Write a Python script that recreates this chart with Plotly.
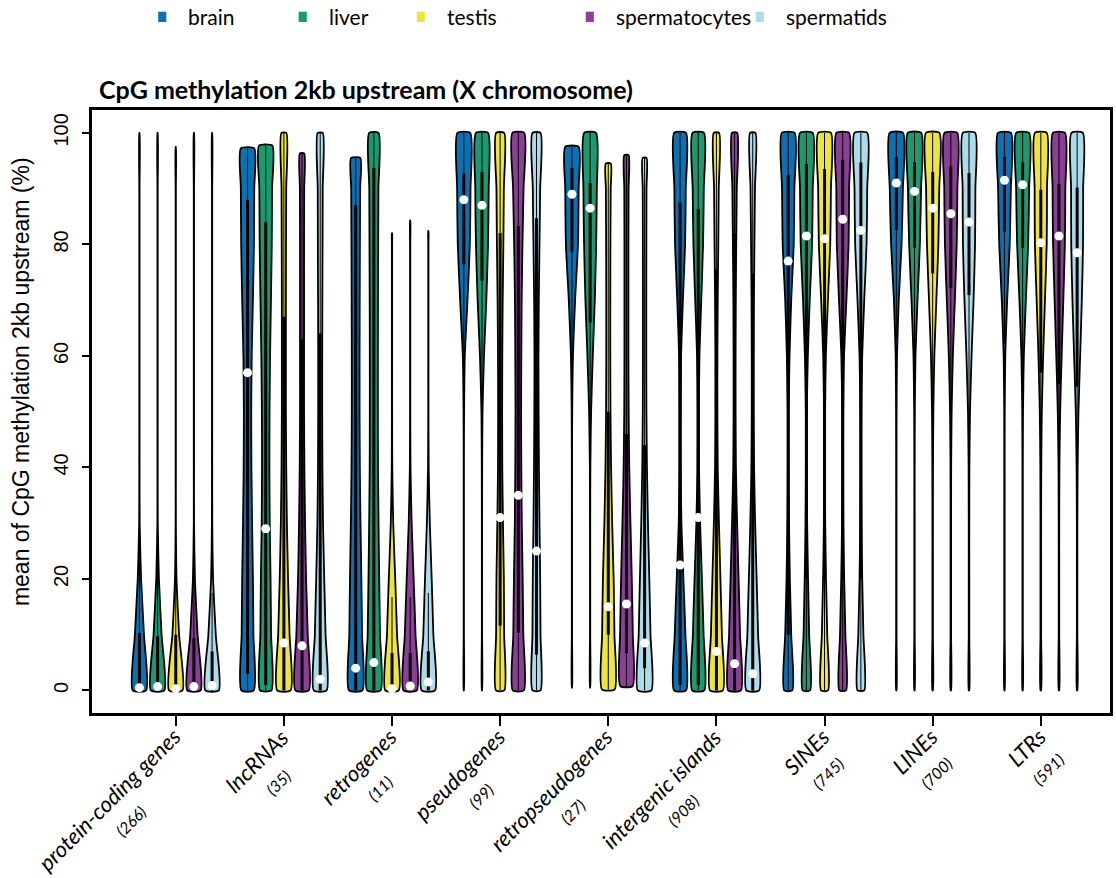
import numpy as np
import plotly.graph_objects as go

# ---------------------------------------------------------------- data
categories = ["protein-coding genes", "lncRNAs", "retrogenes", "pseudogenes",
              "retropseudogenes", "intergenic islands", "SINEs", "LINEs", "LTRs"]
counts = [266, 35, 11, 99, 27, 908, 745, 700, 591]
tissues = ["brain", "liver", "testis", "spermatocytes", "spermatids"]
colors = ["#0C70B2", "#1B9A70", "#EEE43F", "#8B3F96", "#ADDBEA"]

# density levels (% methylation) at which violin widths are given
levels = [0, 10, 20, 30, 40, 50, 60, 70, 80, 90, 100]

# medians (white dots), one value per category
median_brain = [0.5, 57, 4, 88, 89, 22.5, 77, 91, 91.5]
median_liver = [0.7, 29, 5, 87, 86.5, 31, 81.5, 89.5, 90.7]
median_testis = [0.3, 8.5, 0.3, 31, 15, 7, 81, 86.5, 80.3]
median_spermatocytes = [0.7, 8, 0.8, 35, 15.5, 4.8, 84.5, 85.5, 81.5]
median_spermatids = [0.9, 2, 1.5, 25, 8.5, 3, 82.5, 84, 78.5]

# lower / upper quartiles
q1_brain = [0, 3, 0, 76.4, 78.7, 1, 10, 82.6, 82.3]
q3_brain = [10.3, 88, 87, 92.7, 93.7, 87.5, 92.5, 95.7, 95.7]
q1_liver = [0, 1, 0, 73.5, 66, 1, 20, 79.4, 79.4]
q3_liver = [9.7, 84, 93.7, 93, 91, 86.3, 94.4, 94.7, 94.7]
q1_testis = [0, 0, 0, 11.6, 10, 0, 20, 74.8, 57]
q3_testis = [10, 67, 6.7, 82, 50, 75.5, 93.5, 93, 89.8]
q1_spermatocytes = [0, 0, 0, 10.3, 6.7, 0, 20, 72.2, 55]
q3_spermatocytes = [9.4, 63, 6.7, 83.3, 46, 82, 95.2, 94, 90.8]
q1_spermatids = [0, 0, 0, 6.4, 4, 0, 20, 70.9, 54.5]
q3_spermatids = [7, 64, 7, 84.7, 44, 74.8, 94.7, 92.8, 90.2]

# minimum / maximum of each distribution
min_brain = [0, 0, 0, 0, 0.5, 0, 0, 0, 0]
max_brain = [100, 97.2, 95.5, 100, 97.5, 100, 100, 100, 100]
min_liver = [0, 0, 0, 0, 0.5, 0, 0, 0, 0]
max_liver = [100, 97.7, 100, 100, 100, 100, 100, 100, 100]
min_testis = [0, 0, 0, 0, 0.2, 0, 0, 0, 0]
max_testis = [97.5, 100, 82, 100, 94.5, 100, 100, 100, 100]
min_spermatocytes = [0, 0, 0, 0, 0.8, 0, 0, 0, 0]
max_spermatocytes = [100, 96.3, 84.3, 100, 96, 100, 100, 100, 100]
min_spermatids = [0, 0, 0, 0, 0, 0, 0, 0, 0]
max_spermatids = [100, 100, 82.4, 100, 95.5, 100, 100, 100, 100]

# relative density (violin half-width, 1 = widest) at each level, per category
density_brain = [
    [1.0, 0.68, 0.25, 0.04, 0.02, 0.02, 0.02, 0.02, 0.02, 0.02, 0.02],
    [0.92, 0.88, 0.8, 0.68, 0.58, 0.55, 0.62, 0.8, 0.95, 1.0, 1.0],
    [1.0, 0.95, 0.85, 0.72, 0.62, 0.58, 0.58, 0.6, 0.63, 0.67, 0.7],
    [0.02, 0.02, 0.02, 0.02, 0.02, 0.04, 0.15, 0.55, 0.9, 1.0, 0.95],
    [0.02, 0.02, 0.02, 0.02, 0.02, 0.04, 0.15, 0.47, 0.9, 1.0, 1.0],
    [0.9, 0.8, 0.5, 0.2, 0.1, 0.1, 0.15, 0.42, 0.75, 0.85, 0.88],
    [0.6, 0.45, 0.25, 0.12, 0.07, 0.07, 0.2, 0.45, 0.82, 0.92, 0.95],
    [0.03, 0.03, 0.03, 0.03, 0.03, 0.04, 0.1, 0.36, 0.78, 0.98, 1.0],
    [0.03, 0.03, 0.03, 0.03, 0.03, 0.04, 0.12, 0.4, 0.78, 0.95, 0.97],
]
density_liver = [
    [1.0, 0.6, 0.2, 0.03, 0.02, 0.02, 0.02, 0.02, 0.02, 0.02, 0.02],
    [0.85, 0.8, 0.72, 0.6, 0.55, 0.57, 0.65, 0.78, 0.9, 0.95, 1.0],
    [1.0, 0.92, 0.8, 0.7, 0.62, 0.6, 0.6, 0.62, 0.65, 0.68, 0.7],
    [0.02, 0.02, 0.02, 0.02, 0.03, 0.08, 0.3, 0.65, 0.9, 1.0, 0.9],
    [0.02, 0.02, 0.02, 0.02, 0.04, 0.15, 0.4, 0.7, 0.9, 1.0, 0.88],
    [0.9, 0.8, 0.55, 0.28, 0.12, 0.1, 0.18, 0.45, 0.72, 0.83, 0.85],
    [0.55, 0.42, 0.25, 0.12, 0.07, 0.07, 0.22, 0.5, 0.85, 0.95, 0.95],
    [0.03, 0.03, 0.03, 0.03, 0.03, 0.05, 0.15, 0.45, 0.8, 0.98, 1.0],
    [0.03, 0.03, 0.03, 0.03, 0.03, 0.06, 0.18, 0.48, 0.82, 0.97, 0.97],
]
density_testis = [
    [1.0, 0.5, 0.12, 0.02, 0.02, 0.02, 0.02, 0.02, 0.02, 0.02, 0.02],
    [1.0, 0.85, 0.62, 0.45, 0.35, 0.3, 0.3, 0.3, 0.32, 0.35, 0.37],
    [1.0, 0.75, 0.48, 0.18, 0.04, 0.02, 0.02, 0.02, 0.02, 0.02, 0.02],
    [0.62, 0.6, 0.55, 0.42, 0.32, 0.3, 0.32, 0.38, 0.48, 0.55, 0.6],
    [0.95, 0.92, 0.8, 0.58, 0.42, 0.33, 0.3, 0.3, 0.32, 0.36, 0.4],
    [0.95, 0.82, 0.6, 0.38, 0.2, 0.15, 0.15, 0.2, 0.28, 0.35, 0.4],
    [0.52, 0.4, 0.22, 0.1, 0.07, 0.08, 0.2, 0.5, 0.85, 0.95, 0.95],
    [0.04, 0.04, 0.04, 0.04, 0.05, 0.1, 0.25, 0.55, 0.85, 0.98, 1.0],
    [0.05, 0.05, 0.05, 0.05, 0.07, 0.15, 0.35, 0.62, 0.88, 0.92, 0.88],
]
density_spermatocytes = [
    [1.0, 0.55, 0.15, 0.02, 0.02, 0.02, 0.02, 0.02, 0.02, 0.02, 0.02],
    [1.0, 0.85, 0.6, 0.45, 0.35, 0.3, 0.3, 0.3, 0.3, 0.32, 0.33],
    [1.0, 0.8, 0.52, 0.22, 0.05, 0.02, 0.02, 0.02, 0.02, 0.02, 0.02],
    [0.82, 0.75, 0.65, 0.52, 0.45, 0.42, 0.45, 0.5, 0.62, 0.78, 0.88],
    [0.92, 0.95, 0.8, 0.6, 0.42, 0.33, 0.3, 0.3, 0.3, 0.32, 0.33],
    [0.95, 0.82, 0.6, 0.38, 0.2, 0.15, 0.15, 0.18, 0.25, 0.33, 0.4],
    [0.5, 0.4, 0.22, 0.1, 0.07, 0.08, 0.2, 0.55, 0.88, 0.95, 0.95],
    [0.04, 0.04, 0.04, 0.04, 0.05, 0.12, 0.3, 0.6, 0.88, 0.98, 0.95],
    [0.04, 0.04, 0.04, 0.04, 0.07, 0.18, 0.4, 0.65, 0.88, 0.95, 0.9],
]
density_spermatids = [
    [1.0, 0.55, 0.15, 0.03, 0.02, 0.02, 0.02, 0.02, 0.02, 0.02, 0.02],
    [0.95, 0.8, 0.6, 0.42, 0.33, 0.3, 0.3, 0.32, 0.35, 0.37, 0.38],
    [1.0, 0.75, 0.5, 0.22, 0.05, 0.02, 0.02, 0.02, 0.02, 0.02, 0.02],
    [0.6, 0.6, 0.55, 0.45, 0.37, 0.32, 0.3, 0.35, 0.45, 0.55, 0.6],
    [1.0, 0.88, 0.7, 0.5, 0.35, 0.27, 0.25, 0.25, 0.26, 0.28, 0.3],
    [0.95, 0.8, 0.58, 0.36, 0.2, 0.15, 0.15, 0.18, 0.25, 0.33, 0.4],
    [0.5, 0.38, 0.2, 0.1, 0.07, 0.08, 0.2, 0.5, 0.85, 0.95, 0.95],
    [0.04, 0.04, 0.04, 0.04, 0.06, 0.15, 0.38, 0.68, 0.9, 0.95, 0.92],
    [0.04, 0.04, 0.04, 0.04, 0.08, 0.2, 0.45, 0.7, 0.88, 0.9, 0.85],
]

medians = [median_brain, median_liver, median_testis, median_spermatocytes, median_spermatids]
q1s = [q1_brain, q1_liver, q1_testis, q1_spermatocytes, q1_spermatids]
q3s = [q3_brain, q3_liver, q3_testis, q3_spermatocytes, q3_spermatids]
mins = [min_brain, min_liver, min_testis, min_spermatocytes, min_spermatids]
maxs = [max_brain, max_liver, max_testis, max_spermatocytes, max_spermatids]
densities = [density_brain, density_liver, density_testis, density_spermatocytes, density_spermatids]

# ---------------------------------------------------------------- geometry
HALF_W = 0.062          # widest violin half-width, in category units
STEP = 0.168            # spacing of the five tissues inside a category
positions = np.arange(1, len(categories) + 1)

fig = go.Figure()

for ti, tissue in enumerate(tissues):
    offset = (ti - 2) * STEP
    for ci in range(len(categories)):
        c = positions[ci] + offset
        lo, hi = mins[ti][ci], maxs[ti][ci]
        ys = [lo] + [l for l in levels if lo < l < hi] + [hi]
        ws = np.interp(ys, levels, densities[ti][ci]) * HALF_W
        xs = list(c + ws) + list((c - ws)[::-1])
        yy = ys + ys[::-1]
        xs.append(xs[0])
        yy.append(yy[0])
        fig.add_trace(go.Scatter(
            x=xs, y=yy, mode="lines", fill="toself", fillcolor=colors[ti],
            line=dict(color="black", width=1.8, shape="spline", smoothing=0.6),
            hoverinfo="skip", showlegend=False))

# inner boxplots: whiskers, quartile bars and medians
for ti, tissue in enumerate(tissues):
    offset = (ti - 2) * STEP
    wx, wy, bx, by = [], [], [], []
    for ci in range(len(categories)):
        c = positions[ci] + offset
        q1, q3 = q1s[ti][ci], q3s[ti][ci]
        iqr = q3 - q1
        wlo = max(mins[ti][ci], q1 - 1.5 * iqr)
        whi = min(maxs[ti][ci], q3 + 1.5 * iqr)
        wx += [c, c, None]
        wy += [wlo, whi, None]
        bx += [c, c, None]
        by += [q1, q3, None]
    fig.add_trace(go.Scatter(x=wx, y=wy, mode="lines",
                             line=dict(color="black", width=1),
                             hoverinfo="skip", showlegend=False))
    fig.add_trace(go.Scatter(x=bx, y=by, mode="lines",
                             line=dict(color="black", width=3),
                             hoverinfo="skip", showlegend=False))
    fig.add_trace(go.Scatter(x=positions + offset, y=medians[ti], mode="markers",
                             marker=dict(color="white", size=9, line=dict(width=0)),
                             name=tissue, hoverinfo="skip", showlegend=False))

# ---------------------------------------------------------------- layout
LABEL_FONT = "Lato, 'Open Sans', sans-serif"
AXIS_FONT = "'Liberation Sans', Arial, sans-serif"

annotations = []
for ci, (name, n) in enumerate(zip(categories, counts)):
    annotations.append(dict(
        x=positions[ci], y=-0.012, xref="x", yref="paper",
        text=f"<i>{name}</i><br><span style='font-size:16px'><i>({n})</i></span>",
        showarrow=False, textangle=-45, xanchor="right", yanchor="top",
        xshift=32, align="center",
        font=dict(family=LABEL_FONT, size=22, color="black")))

annotations.append(dict(
    x=0.005, y=1.035, xref="paper", yref="paper",
    text="<b>CpG methylation 2kb upstream (X chromosome)</b>",
    showarrow=False, xanchor="left", yanchor="middle",
    font=dict(family=LABEL_FONT, size=25, color="black")))

annotations.append(dict(
    x=-0.069, y=0.55, xref="paper", yref="paper",
    text="mean of CpG methylation 2kb upstream (%)",
    showarrow=False, textangle=-90, xanchor="center", yanchor="middle",
    font=dict(family=AXIS_FONT, size=23, color="black")))

# legend row across the top
legend_x = [0.069, 0.207, 0.323, 0.489, 0.656]
shapes = []
for ti, tissue in enumerate(tissues):
    shapes.append(dict(type="rect", xref="paper", yref="paper",
                       x0=legend_x[ti] - 0.004, x1=legend_x[ti] + 0.004,
                       y0=1.146, y1=1.163, fillcolor=colors[ti],
                       line=dict(width=0)))
    annotations.append(dict(
        x=legend_x[ti] + 0.0235, y=1.155, xref="paper", yref="paper",
        text=tissue, showarrow=False, xanchor="left", yanchor="middle",
        font=dict(family=LABEL_FONT, size=21, color="black")))

fig.update_layout(
    width=1116, height=878,
    margin=dict(l=92, r=3, t=110, b=165),
    paper_bgcolor="white", plot_bgcolor="white",
    showlegend=False,
    annotations=annotations, shapes=shapes,
    xaxis=dict(range=[0.2255, 9.64], tickvals=list(positions), showticklabels=False,
               ticks="outside", ticklen=10, tickwidth=1.5, tickcolor="black",
               showgrid=False, zeroline=False,
               showline=True, linecolor="black", linewidth=2.5, mirror=True),
    yaxis=dict(range=[-4.04, 104.1], tickvals=[0, 20, 40, 60, 80, 100],
               tickangle=-90, ticks="outside", ticklen=7, tickwidth=1.5,
               tickcolor="black", ticklabelstandoff=6,
               tickfont=dict(family=AXIS_FONT, size=20, color="black"),
               showgrid=False, zeroline=False,
               showline=True, linecolor="black", linewidth=2.5, mirror=True),
)

fig.write_html("out.html")
